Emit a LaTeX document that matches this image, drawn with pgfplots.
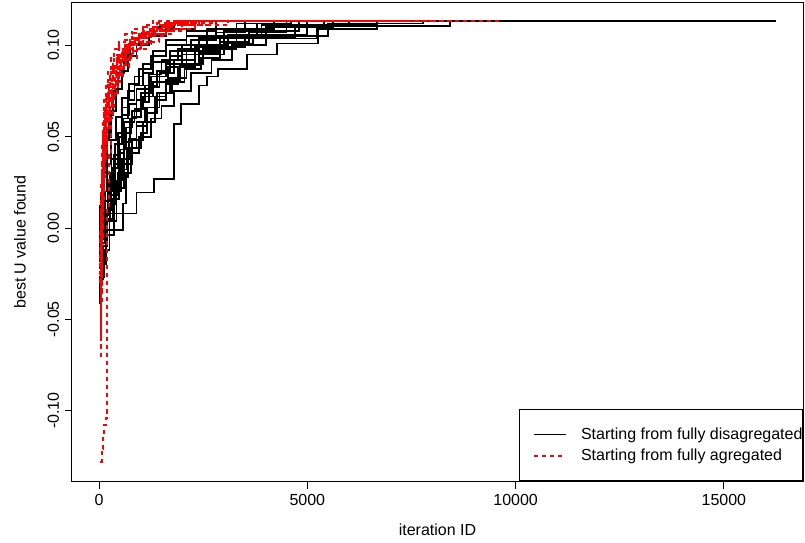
\documentclass[border=0pt]{standalone}
\usepackage{fontspec}
\setmainfont{Liberation Sans}
\usepackage{pgfplots}
\pgfplotsset{compat=1.18}

\pgfplotsset{
  blk/.style={black, line width=1.8bp, const plot, forget plot},
  rdd/.style={red, line width=2bp, const plot, dash pattern=on 4bp off 4bp, forget plot},
}

\begin{document}
\fontsize{16bp}{19bp}\selectfont
\begin{tikzpicture}
\begin{axis}[
    scale only axis,
    width=731bp, height=478bp,
    xmin=-650, xmax=16900,
    ymin=-0.1385, ymax=0.1232,
    axis line style={line width=1bp},
    tick style={line width=1bp, black},
    tick align=outside, major tick length=7.5bp,
    xtick pos=bottom, ytick pos=left,
    scaled x ticks=false, scaled y ticks=false,
    xtick={0,5000,10000,15000},
    xticklabels={0,5000,10000,15000},
    ytick={-0.10,-0.05,0,0.05,0.10},
    yticklabels={-0.10,-0.05,0.00,0.05,0.10},
    tick label style={font=\fontsize{16bp}{19bp}\selectfont},
    xticklabel style={anchor=north, yshift=-0.5bp},
    yticklabel style={rotate=90, anchor=south, xshift=0bp},
    label style={font=\fontsize{16bp}{19bp}\selectfont},
    every axis x label/.style={at={(axis description cs:0.5,-0.1025)}, anchor=center},
    every axis y label/.style={at={(axis description cs:-0.0711,0.5)}, rotate=90, anchor=center},
    xlabel={iteration ID},
    ylabel={best U value found},
    legend cell align=left,
    legend image code/.code={\path (-14bp,0bp); \draw[#1] (0bp,0bp) -- (32bp,0bp);},
    legend style={at={(1,0)}, anchor=south east, draw=black, line width=1bp, fill=white,
      inner xsep=0bp, inner ysep=16.5bp, row sep=4bp, column sep=14bp,
      font=\fontsize{16bp}{19bp}\selectfont,
      nodes={inner xsep=0bp, inner ysep=1.5bp}},
]
% ---- starting from fully disaggregated (black steps) ----
\addplot[blk] coordinates {(0,-0.020)(60,-0.004)(350,0.008)(900,0.0194)(1320,0.027)(1790,0.057)(1960,0.068)(2390,0.078)(2600,0.083)(2850,0.087)(3560,0.095)(4280,0.101)(5260,0.109)(6670,0.1135)(12400,0.1135)};
\addplot[blk] coordinates {(0,-0.035)(40,-0.020)(170,-0.001)(575,0.0134)(640,0.030)(760,0.044)(1000,0.052)(1150,0.063)(1400,0.074)(1700,0.082)(2100,0.090)(2500,0.098)(3300,0.104)(4700,0.110)(5620,0.1135)(9800,0.1135)};
\addplot[blk] coordinates {(0,-0.041)(30,-0.027)(110,-0.012)(250,0.004)(420,0.022)(600,0.035)(800,0.048)(1050,0.058)(1350,0.070)(1600,0.079)(1900,0.088)(2300,0.095)(3000,0.101)(3700,0.106)(5000,0.1106)(8420,0.1135)(16250,0.1135)};
\addplot[blk] coordinates {(0,-0.010)(50,0.005)(200,0.018)(450,0.030)(600,0.047)(750,0.060)(900,0.070)(1100,0.078)(1400,0.086)(1700,0.094)(2000,0.100)(2600,0.105)(3300,0.109)(4200,0.1135)(10500,0.1135)};
\addplot[blk] coordinates {(0,-0.006)(80,0.010)(220,0.024)(350,0.040)(450,0.052)(560,0.066)(700,0.075)(850,0.083)(1050,0.090)(1300,0.097)(1600,0.103)(2100,0.108)(2800,0.1135)(9000,0.1135)};
\addplot[blk] coordinates {(0,-0.025)(60,-0.008)(130,0.010)(300,0.020)(520,0.028)(700,0.041)(950,0.050)(1250,0.060)(1500,0.067)(1800,0.075)(2200,0.085)(2700,0.092)(3200,0.100)(4000,0.105)(5500,0.112)(7770,0.1135)(11500,0.1135)};
\addplot[blk] coordinates {(0,-0.015)(40,0.002)(150,0.020)(300,0.038)(450,0.050)(600,0.058)(850,0.065)(1050,0.072)(1300,0.080)(1650,0.088)(2000,0.095)(2500,0.100)(3100,0.106)(3900,0.111)(5000,0.1135)(10000,0.1135)};
\addplot[blk] coordinates {(0,-0.030)(70,-0.012)(180,0.008)(350,0.025)(500,0.043)(650,0.055)(800,0.064)(1000,0.074)(1250,0.083)(1600,0.090)(2100,0.097)(2900,0.104)(3800,0.108)(4800,0.1135)(9500,0.1135)};
\addplot[blk] coordinates {(0,-0.005)(30,0.012)(80,0.030)(150,0.048)(230,0.062)(330,0.075)(450,0.085)(600,0.095)(750,0.101)(950,0.106)(1300,0.110)(1800,0.1135)(8000,0.1135)};
\addplot[blk] coordinates {(0,-0.020)(50,-0.003)(120,0.015)(260,0.030)(380,0.046)(560,0.062)(720,0.068)(900,0.076)(1200,0.084)(1500,0.092)(1900,0.098)(2400,0.104)(3000,0.108)(3800,0.112)(4600,0.1135)(11000,0.1135)};
\addplot[blk] coordinates {(0,-0.012)(40,0.000)(160,0.010)(280,0.022)(380,0.035)(480,0.050)(580,0.060)(700,0.070)(850,0.078)(1050,0.085)(1300,0.091)(1700,0.097)(2200,0.103)(2800,0.107)(3500,0.1135)(9200,0.1135)};
\addplot[blk] coordinates {(0,-0.028)(90,-0.010)(200,0.005)(330,0.016)(470,0.032)(680,0.044)(900,0.056)(1150,0.066)(1450,0.074)(1750,0.080)(2050,0.087)(2450,0.093)(2900,0.099)(3500,0.1038)(5240,0.1093)(5620,0.1115)(6670,0.1135)(10800,0.1135)};
\addplot[blk] coordinates {(0,0.000)(50,0.018)(110,0.034)(190,0.050)(280,0.064)(400,0.076)(550,0.086)(700,0.094)(900,0.100)(1200,0.105)(1600,0.109)(2300,0.1135)(7500,0.1135)};
\addplot[blk] coordinates {(0,-0.018)(30,-0.004)(90,0.007)(210,0.020)(330,0.033)(460,0.041)(600,0.052)(780,0.061)(1000,0.069)(1200,0.077)(1450,0.085)(1800,0.092)(2300,0.099)(3000,0.105)(4000,0.110)(5400,0.1135)(10300,0.1135)};
\addplot[blk] coordinates {(0,-0.008)(40,0.008)(110,0.020)(190,0.035)(280,0.048)(400,0.061)(550,0.071)(720,0.079)(950,0.087)(1250,0.094)(1600,0.100)(2100,0.105)(2600,0.109)(3300,0.1120)(4500,0.1135)(8800,0.1135)};
\addplot[blk] coordinates {(0,-0.022)(60,-0.006)(150,0.004)(260,0.013)(400,0.026)(550,0.038)(720,0.049)(900,0.058)(1100,0.066)(1350,0.072)(1600,0.081)(1950,0.089)(2400,0.096)(2900,0.102)(3600,0.107)(4500,0.111)(6000,0.1135)(12000,0.1135)};
% ---- starting from fully aggregated (red dotted) ----
\addplot[rdd] coordinates {(20,-0.128)(60,-0.121)(100,-0.114)(130,-0.108)(160,-0.104)(185,-0.101)(190,-0.020)(200,0.010)(230,0.040)(280,0.060)(340,0.074)(420,0.084)(520,0.092)(650,0.098)(800,0.103)(1000,0.107)(1300,0.110)(1800,0.112)(2400,0.1135)(7000,0.1135)};
\addplot[rdd] coordinates {(20,-0.070)(40,-0.040)(60,-0.010)(80,0.015)(110,0.038)(150,0.055)(200,0.066)(260,0.076)(330,0.084)(420,0.091)(540,0.097)(700,0.102)(900,0.106)(1150,0.109)(1500,0.111)(2000,0.1135)(6500,0.1135)};
\addplot[rdd] coordinates {(20,-0.050)(35,-0.020)(50,0.010)(70,0.032)(95,0.050)(130,0.063)(170,0.073)(220,0.081)(290,0.088)(370,0.094)(480,0.099)(620,0.103)(800,0.107)(1050,0.110)(1400,0.112)(1800,0.1135)(5500,0.1135)};
\addplot[rdd] coordinates {(20,-0.035)(40,-0.010)(60,0.012)(90,0.030)(130,0.046)(180,0.058)(240,0.068)(310,0.077)(400,0.085)(510,0.091)(650,0.096)(820,0.101)(1050,0.105)(1350,0.108)(1700,0.111)(2300,0.1135)(8000,0.1135)};
\addplot[rdd] coordinates {(20,-0.060)(40,-0.030)(55,0.000)(75,0.025)(100,0.043)(140,0.058)(190,0.070)(250,0.079)(330,0.087)(430,0.093)(560,0.098)(720,0.102)(950,0.106)(1250,0.109)(1650,0.112)(2100,0.1135)(9600,0.1135)};
\addplot[rdd] coordinates {(20,-0.045)(45,-0.015)(70,0.008)(100,0.028)(140,0.043)(200,0.055)(270,0.065)(350,0.074)(450,0.082)(570,0.088)(720,0.093)(900,0.098)(1150,0.102)(1450,0.106)(1800,0.109)(2300,0.111)(3100,0.1135)(7500,0.1135)};
\addplot[rdd] coordinates {(20,-0.030)(30,0.000)(45,0.025)(65,0.045)(90,0.060)(120,0.071)(160,0.080)(210,0.087)(280,0.093)(360,0.098)(470,0.102)(620,0.106)(800,0.109)(1050,0.111)(1300,0.1135)(6000,0.1135)};
\addplot[rdd] coordinates {(20,-0.055)(45,-0.025)(65,0.000)(90,0.020)(125,0.038)(170,0.052)(230,0.063)(300,0.072)(390,0.080)(500,0.087)(640,0.092)(800,0.097)(1000,0.101)(1250,0.105)(1600,0.108)(2000,0.111)(2700,0.1135)(8500,0.1135)};
\addplot[rdd] coordinates {(20,-0.040)(35,-0.012)(50,0.015)(70,0.036)(100,0.052)(140,0.064)(190,0.074)(260,0.083)(340,0.090)(440,0.095)(580,0.100)(750,0.104)(980,0.107)(1250,0.110)(1600,0.112)(2000,0.1135)(5000,0.1135)};
\addplot[rdd] coordinates {(20,-0.025)(40,0.005)(65,0.028)(95,0.045)(135,0.058)(185,0.068)(250,0.077)(330,0.085)(430,0.091)(560,0.096)(720,0.100)(920,0.104)(1200,0.108)(1550,0.111)(2000,0.1135)(9000,0.1135)};
\addplot[rdd] coordinates {(20,-0.065)(40,-0.035)(60,-0.005)(85,0.020)(115,0.040)(160,0.055)(220,0.066)(290,0.075)(380,0.083)(490,0.089)(620,0.094)(780,0.098)(980,0.102)(1250,0.106)(1600,0.109)(2100,0.112)(2800,0.1135)(7000,0.1135)};
\addplot[rdd] coordinates {(20,-0.048)(40,-0.018)(55,0.010)(80,0.034)(110,0.050)(150,0.062)(200,0.072)(270,0.080)(350,0.087)(450,0.093)(580,0.098)(740,0.102)(950,0.106)(1200,0.109)(1500,0.111)(1900,0.1135)(6800,0.1135)};
\addplot[rdd] coordinates {(20,-0.038)(40,-0.008)(60,0.016)(85,0.034)(120,0.049)(165,0.061)(225,0.071)(300,0.079)(390,0.086)(500,0.092)(640,0.097)(820,0.101)(1050,0.105)(1350,0.108)(1750,0.111)(2250,0.1135)(8800,0.1135)};
\addplot[rdd] coordinates {(20,-0.058)(35,-0.028)(50,0.002)(70,0.026)(95,0.044)(130,0.057)(175,0.068)(230,0.077)(300,0.085)(390,0.091)(500,0.096)(650,0.100)(830,0.104)(1080,0.108)(1400,0.111)(1800,0.1135)(5800,0.1135)};
% legend entries
\addlegendimage{black, line width=1.8bp}
\addlegendentry{Starting from fully disagregated}
\addlegendimage{red, line width=2bp, dash pattern=on 4bp off 4bp}
\addlegendentry{Starting from fully agregated}
\end{axis}
\path ([shift={(-72bp,-62bp)}]current axis.south west) rectangle ([shift={(2bp,3bp)}]current axis.north east);
\end{tikzpicture}
\end{document}
